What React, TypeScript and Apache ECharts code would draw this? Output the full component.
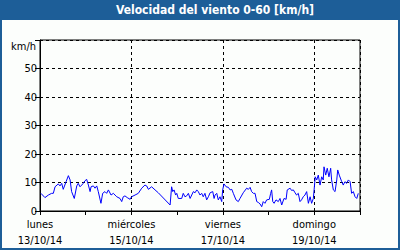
import React, { useEffect, useRef } from "react";
import * as echarts from "echarts";

const TITLE = "Velocidad del viento 0-60 [km/h]";
const UNIT = "km/h";
const DAY_NAMES = ["lunes", "miércoles", "viernes", "domingo"];
const DAY_DATES = ["13/10/14", "15/10/14", "17/10/14", "19/10/14"];
const Y_TICKS = [0, 10, 20, 30, 40, 50, 60];

// hours since 13/10/14 00:00
const HOURS = [
  0.5, 2.6, 4.4, 6.1, 7.0, 7.9, 9.6, 10.5, 11.4, 12.2, 13.7, 14.9, 15.8, 16.6, 18.0, 19.3, 20.1, 21.0, 21.9, 22.7,
  23.6, 24.5, 25.4, 26.3, 26.8, 28.0, 28.9, 29.8, 30.6, 32.0, 32.9, 34.1, 35.0, 35.9, 37.3, 38.5, 39.4, 40.3, 42.0,
  42.9, 43.7, 44.6, 45.8, 47.3, 48.1, 49.9, 51.6, 53.4, 55.1, 56.0, 56.9, 58.6, 60.4, 62.1, 68.3, 69.1, 69.7, 70.4,
  71.2, 71.8, 72.6, 74.4, 75.2, 76.1, 77.0, 77.9, 78.8, 80.5, 81.4, 82.3, 83.1, 84.0, 84.9, 85.7, 86.6, 87.5, 88.4,
  89.3, 90.7, 91.4, 91.9, 92.8, 93.6, 94.5, 95.4, 95.9, 96.6, 97.7, 98.9, 99.8, 100.7, 101.5, 102.9, 104.1, 105.0,
  106.7, 108.5, 109.4, 110.3, 111.1, 112.0, 112.9, 113.8, 114.6, 115.5, 116.4, 117.2, 118.1, 119.0, 120.4, 121.1,
  121.6, 122.2, 122.9, 123.9, 125.1, 126.0, 126.9, 128.1, 129.2, 129.8, 131.3, 132.1, 133.0, 133.9, 134.7, 135.6,
  136.5, 137.3, 138.2, 139.1, 140.0, 140.9, 141.8, 142.6, 143.5, 143.9, 144.5, 145.3, 146.1, 147.0, 147.9, 148.7,
  149.1, 150.0, 150.8, 151.7, 152.6, 153.1, 154.0, 154.9, 155.8, 156.3, 157.1, 158.4, 159.2, 160.1, 161.0, 161.9,
  162.8, 163.6, 164.5, 165.4, 166.3, 167.1,
];

const SPEEDS = [
  6.2, 4.7, 5.6, 6.2, 6.2, 8.5, 9.5, 8.8, 9.7, 7.6, 10.3, 12.4, 10.9, 6.8, 4.4, 8.8, 9.7, 8.5, 9.1, 9.7,
  10.6, 11.1, 9.1, 6.8, 8.5, 8.8, 8.0, 8.8, 6.8, 2.7, 6.2, 6.8, 6.2, 7.4, 5.6, 6.2, 5.6, 5.0, 4.4,
  3.3, 5.0, 5.3, 4.7, 4.1, 5.0, 5.6, 6.2, 8.0, 9.1, 8.8, 7.6, 8.5, 7.4, 6.4, 2.1, 8.5, 6.8, 7.4,
  5.6, 6.2, 4.4, 4.4, 6.2, 5.0, 5.3, 6.2, 4.4, 6.8, 6.4, 7.4, 6.8, 5.6, 6.2, 5.0, 6.2, 3.9, 5.0,
  6.4, 6.8, 4.4, 5.6, 6.2, 3.9, 5.0, 3.3, 7.4, 9.5, 8.5, 8.3, 7.4, 7.6, 6.2, 3.9, 3.3, 4.4,
  6.4, 8.0, 7.6, 8.3, 6.8, 6.2, 6.2, 3.3, 3.0, 2.5, 1.5, 3.3, 2.7, 3.9, 4.1, 6.2,
  7.4, 3.3, 2.7, 3.9, 3.3, 4.4, 2.1, 4.4, 4.1, 7.4, 8.0, 7.2, 7.4, 6.4, 5.6, 6.2,
  3.3, 3.9, 5.0, 5.6, 6.8, 2.7, 5.0, 2.7, 4.4, 7.4, 12.0, 10.9, 12.6, 9.1, 12.0, 10.9,
  15.5, 12.6, 15.0, 12.0, 15.0, 10.9, 7.4, 6.8, 10.9, 14.4, 12.6, 10.3, 9.1, 10.3, 9.7, 10.9,
  10.3, 6.2, 6.8, 5.0, 4.4, 6.2,
];

const FONT = "'DejaVu Sans Condensed', 'Noto Sans', sans-serif";
const FRAME = "#1d5e98";

export default function App() {
  const ref = useRef<HTMLDivElement>(null);
  useEffect(() => {
    if (!ref.current) return;
    const chart = echarts.init(ref.current, undefined, { renderer: "svg" });
    const data = HOURS.map((h, i) => [h, SPEEDS[i]]);
    chart.setOption({
      animation: false,
      backgroundColor: FRAME,
      textStyle: { fontFamily: FONT },
      graphic: [
        { type: "rect", z: -10, shape: { x: 2, y: 20, width: 396, height: 228 }, style: { fill: "#fcfefc" } },
        {
          type: "text",
          x: 215,
          y: 10,
          style: {
            text: TITLE,
            fill: "#ffffff",
            font: `bold 12px ${FONT}`,
            textAlign: "center",
            textVerticalAlign: "middle",
          },
        },
        {
          type: "text",
          x: 36,
          y: 46,
          style: {
            text: UNIT,
            fill: "#000000",
            font: `11px ${FONT}`,
            textAlign: "right",
            textVerticalAlign: "middle",
          },
        },
      ],
      grid: {
        left: 40,
        top: 40,
        width: 320,
        height: 171,
        show: true,
        borderColor: "#000",
        borderWidth: 1,
        backgroundColor: "transparent",
      },
      xAxis: [
        {
          type: "value",
          min: 0,
          max: 168,
          interval: 24,
          position: "bottom",
          axisLine: { show: true, lineStyle: { color: "#000", width: 1 } },
          axisTick: { show: true, length: 4, inside: false, lineStyle: { color: "#000" } },
          axisLabel: { show: false },
          splitLine: { show: false },
        },
        {
          type: "value",
          min: 0,
          max: 168,
          interval: 48,
          position: "bottom",
          offset: 0,
          axisLine: { show: false },
          axisTick: { show: false },
          splitLine: { show: true, lineStyle: { color: "#000", type: [3, 3], width: 1 } },
          axisLabel: {
            show: true,
            margin: 5,
            color: "#000",
            fontSize: 11,
            lineHeight: 16,
            fontFamily: FONT,
            formatter: (v: number) => {
              const i = Math.round(v / 48);
              if (v % 48 !== 0 || i >= DAY_NAMES.length) return "";
              return DAY_NAMES[i] + "\n" + DAY_DATES[i];
            },
          },
        },
      ],
      yAxis: {
        type: "value",
        min: Y_TICKS[0],
        max: Y_TICKS[Y_TICKS.length - 1],
        interval: 10,
        axisLine: { show: true, lineStyle: { color: "#000" } },
        axisTick: { show: true, length: 5, lineStyle: { color: "#000" } },
        axisLabel: {
          margin: 3,
          color: "#000",
          fontSize: 11,
          fontFamily: FONT,
          formatter: (v: number) => (v === 60 ? "" : String(v)),
        },
        splitLine: { show: true, lineStyle: { color: "#000", type: [3, 3], width: 1 } },
      },
      series: [
        {
          type: "line",
          xAxisIndex: 0,
          data,
          showSymbol: false,
          symbol: "none",
          lineStyle: { color: "#0000ff", width: 1 },
          z: 5,
        },
      ],
    });
    return () => chart.dispose();
  }, []);
  return (
    <div
      ref={ref}
      style={{ position: "fixed", left: 0, top: 0, width: 400, height: 250 }}
    />
  );
}
